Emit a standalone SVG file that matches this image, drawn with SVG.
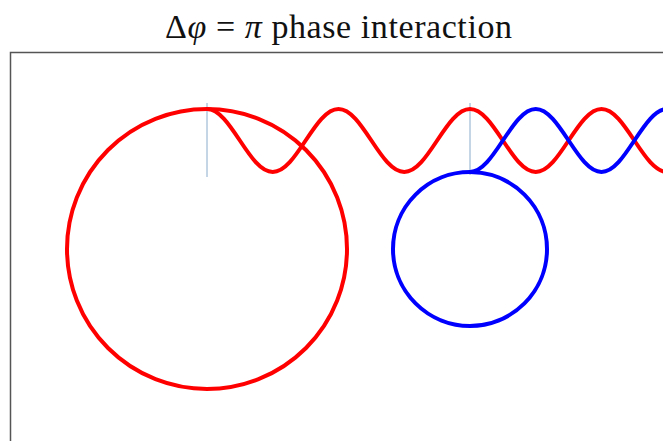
<svg xmlns="http://www.w3.org/2000/svg" width="663" height="441" viewBox="0 0 663 441">
<style>
.title{font-family:"Liberation Serif","DejaVu Serif",serif;font-size:34px;fill:#111}
.it{font-style:italic}
.frame{fill:none;stroke:#555;stroke-width:1.5}
.red{fill:none;stroke:#ff0000;stroke-width:4}
.blue{fill:none;stroke:#0000ff;stroke-width:4}
.guide{stroke:#8aaccc;stroke-width:1}
</style>
<rect x="0" y="0" width="663" height="441" fill="#fff"/>
<text class="title" x="165" y="38" textLength="347" lengthAdjust="spacing">Δ<tspan class="it">φ</tspan> = <tspan class="it">π</tspan> phase interaction</text>
<rect class="frame" x="10.5" y="52.5" width="700" height="450"/>
<g id="guides">
<line class="guide" x1="207" y1="103" x2="207" y2="177"/>
<line class="guide" x1="470" y1="103" x2="470" y2="175"/>
</g>
<g id="red-circle"><circle class="red" cx="207" cy="249" r="140"/></g>
<g id="blue-circle"><circle class="blue" cx="470" cy="249" r="77"/></g>
<g id="connectors">
<path id="red-wave" class="red" d="M207,109 C230.9,109 248.85,172 272.75,172 S314.6,109 338.5,109 S380.35,172 404.25,172 S446.1,109 470,109 S511.85,172 535.75,172 S577.6,109 601.5,109 S643.35,172 667.25,172"/>
<path id="blue-wave" class="blue" d="M470,172 C493.9,172 511.85,109 535.75,109 S577.6,172 601.5,172 S643.35,109 667.25,109"/>
</g>
</svg>
